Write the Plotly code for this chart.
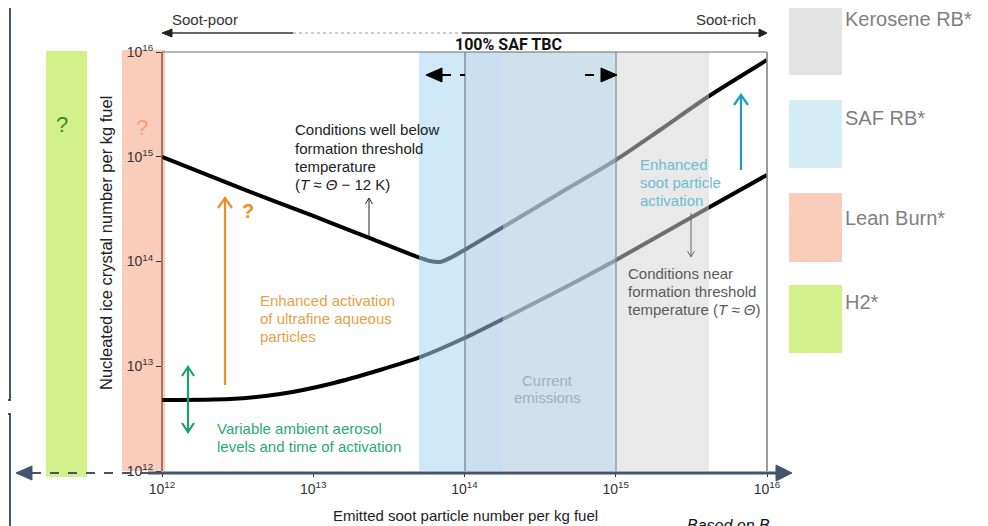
import plotly.graph_objects as go

# ---------------- data ----------------
soot_upper = [1e12, 3.54e12, 1e13, 2.37e13, 4.93e13, 5.92e13, 6.89e13, 8.26e13, 1e14,
              1.85e14, 4.28e14, 1e15, 1.96e15, 4.14e15, 1e16]
ice_upper = [1.0e15, 4.82e14, 2.72e14, 1.67e14, 1.10e14, 1.01e14, 9.9e13, 1.10e14, 1.29e14,
             2.18e14, 4.51e14, 9.31e14, 1.80e15, 3.80e15, 8.39e15]
soot_lower = [1e12, 2.82e12, 6.03e12, 1.29e13, 2.76e13, 5.08e13, 1e14, 1.85e14, 4.28e14,
              1e15, 4.07e15, 1e16]
ice_lower = [4.76e12, 4.86e12, 5.43e12, 6.78e12, 9.2e12, 1.22e13, 1.86e13, 2.89e13, 5.35e13,
             1.03e14, 3.24e14, 6.70e14]
tick_vals = [1e12, 1e13, 1e14, 1e15, 1e16]
tick_text = ["10<sup>12</sup>", "10<sup>13</sup>", "10<sup>14</sup>", "10<sup>15</sup>", "10<sup>16</sup>"]
legend_labels = ["Kerosene RB*", "SAF RB*", "Lean Burn*", "H2*"]
legend_colors = ["#e3e3e3", "#d5eef6", "#facdbb", "#d4f08a"]

FONT = "Arial, Liberation Sans, sans-serif"

# ---------------- pixel helpers (layout only) ----------------
# page body adds an 8px offset; reference pixel coords are used below
OFF = 8
FW, FH = 988 - OFF, 526 - OFF
L, R, T, B = 162, 767, 52, 471
def X(px): return (px - L) / (R - L)
def Y(py): return (B - py) / (B - T)

shapes = []
annots = []

def line(x0, y0, x1, y1, color, width, dash="solid", layer="above"):
    shapes.append(dict(type="line", xref="paper", yref="paper", x0=X(x0), y0=Y(y0),
                       x1=X(x1), y1=Y(y1), line=dict(color=color, width=width, dash=dash),
                       layer=layer))

def rect(x0, y0, x1, y1, color, opacity=1.0, layer="below"):
    shapes.append(dict(type="rect", xref="paper", yref="paper", x0=X(x0), y0=Y(y0),
                       x1=X(x1), y1=Y(y1), fillcolor=color, opacity=opacity,
                       line=dict(width=0), layer=layer))

def path(pts, color, width=1.5, fill=None, closed=False, layer="above"):
    d = "M " + " L ".join(f"{X(a):.5f},{Y(b):.5f}" for a, b in pts)
    if closed:
        d += " Z"
    shapes.append(dict(type="path", xref="paper", yref="paper", path=d,
                       line=dict(color=color, width=width),
                       fillcolor=fill if fill else "rgba(0,0,0,0)", layer=layer))

def text(px, py, s, size, color, xanchor="left", yanchor="middle", align="left",
         family=FONT, angle=0):
    annots.append(dict(xref="paper", yref="paper", x=X(px), y=Y(py), text=s,
                       showarrow=False, xanchor=xanchor, yanchor=yanchor, align=align,
                       font=dict(size=size, color=color, family=family), textangle=angle))

def mtext(px, py0, lines, size, color, spacing=18, xanchor="left"):
    for i, s in enumerate(lines):
        text(px, py0 + i * spacing, s, size, color, xanchor=xanchor)

def chevron(tx, ty, direction, color, hw=6, h=9, width=2):
    s = 1 if direction == "up" else -1
    path([(tx - hw, ty + s * h), (tx, ty), (tx + hw, ty + s * h)], color, width)

# ---------------- background bands ----------------
rect(46, 51, 87, 477, "#d4f08a")          # H2 band
rect(122, 50, 165, 471, "#facdbb")        # Lean burn band

# overlays above curves (semi-transparent)
rect(419, 52, 465, 471, "rgb(168,215,243)", 0.55, "above")
rect(465, 52, 503, 471, "rgb(155,199,228)", 0.55, "above")
rect(503, 52, 616, 471, "rgb(190,214,228)", 0.74, "above")
rect(616, 52, 709, 471, "rgb(212,212,212)", 0.52, "above")

# frame lines
line(L, T, R, T, "#6a6a6a", 1.2)
line(R, T, R, B, "#7a7a7a", 1.5)
line(L, T, L, B, "#6b3a2a", 1.2)
line(465, T, 465, B, "#6a7d8a", 1.2)
line(616, T, 616, B, "#8a8a8a", 1.2)

# bottom axis arrow
line(148, 473, 777, 473, "#44546a", 3)
path([(776, 465), (792, 473), (776, 481)], "#44546a", 1, fill="#44546a", closed=True)
line(32, 473, 148, 473, "#44546a", 2, dash="dash")
path([(32, 466), (16, 473), (32, 480)], "#44546a", 1, fill="#44546a", closed=True)

# left slide box lines
path([(0, 400), (10, 400), (10, 0)], "#44546a", 2)
path([(0, 414), (10, 414), (10, 526)], "#44546a", 2)

# top soot-poor / soot-rich arrows
path([(162, 33), (172, 29), (172, 37)], "#222", 1, fill="#222", closed=True)
line(172, 33, 293, 33, "#333", 1.3)
line(293, 33, 462, 33, "#999", 1.2, dash="dot")
line(462, 33, 759, 33, "#333", 1.3)
path([(767, 33), (759, 29), (759, 37)], "#222", 1, fill="#222", closed=True)
text(205, 20, "Soot-poor", 15, "#333", xanchor="center")
text(726, 20, "Soot-rich", 15, "#333", xanchor="center")

# 100% SAF TBC and dashed arrows
text(508, 45, "<b>100% SAF TBC</b>", 16, "#111", xanchor="center", family="Roboto")
path([(426, 75), (442, 68), (442, 82)], "#000", 1, fill="#000", closed=True)
line(442, 75, 465, 75, "#000", 2, dash="dash")
line(585, 75, 601, 75, "#000", 2, dash="dash")
path([(617, 75), (601, 68), (601, 82)], "#000", 1, fill="#000", closed=True)

# coloured arrows
line(225, 385, 225, 199, "#ef8c26", 2.2)
chevron(225, 198, "up", "#ef8c26", 7, 10, 2.2)
line(741, 170, 741, 96, "#1a9cc8", 2.2)
chevron(741, 95, "up", "#1a9cc8", 7, 10, 2.2)
line(188, 369, 188, 430, "#1aa26a", 2.2)
chevron(188, 367, "up", "#1aa26a", 6, 9, 2.2)
chevron(188, 432, "down", "#1aa26a", 6, 9, 2.2)
line(369, 236, 369, 199, "#222", 1)
chevron(369, 198, "up", "#222", 3.5, 6, 1)
line(691, 213, 691, 256, "#666", 1)
chevron(691, 257, "down", "#666", 3.5, 6, 1)

# text annotations
mtext(293, 130, ["Conditions well below", "formation threshold", "temperature",
                 "(<i>T</i> ≈ <i>Θ</i> − 12 K)"], 15, "#222")
mtext(258, 300, ["Enhanced activation", "of ultrafine aqueous", "particles"], 15, "#e8a04a")
mtext(215, 428, ["Variable ambient aerosol", "levels and time of activation"], 15, "#2aa878")
mtext(547, 380, ["Current", "emissions"], 15, "#a3aeb6", spacing=17, xanchor="center")
mtext(638, 164, ["Enhanced", "soot particle", "activation"], 15, "#6cbdd0")
mtext(626, 273, ["Conditions near", "formation threshold",
                 "temperature (<i>T</i> ≈ <i>Θ</i>)"], 15, "#5a5a5a")
text(248, 211, "<b>?</b>", 20, "#f0901a", xanchor="center")
text(62, 125, "?", 22, "#3c8c2c", xanchor="center")
text(142, 127, "?", 22, "#f5a070", xanchor="center")

# axis titles
text(106, 243, "Nucleated ice crystal number per kg fuel", 16.5, "#222", xanchor="center", angle=-90)
text(465, 516, "Emitted soot particle number per kg fuel", 15, "#222", xanchor="center")
text(685, 515, "<i>Based on B</i>", 16, "#111", yanchor="top")

# legend swatches
sw_y = [(6, 75), (100, 168), (193, 262), (285, 353)]
lab_y = [19, 118, 218, 302]
for (y0, y1), c, lab, ly in zip(sw_y, legend_colors, legend_labels, lab_y):
    rect(789, y0, 842, y1, c)
    text(843, ly, lab, 20, "#7f7f7f")

# ---------------- figure ----------------
fig = go.Figure()
fig.add_trace(go.Scatter(x=soot_upper, y=ice_upper, mode="lines",
                         line=dict(color="#000", width=4, shape="spline", smoothing=0.7),
                         hoverinfo="skip"))
fig.add_trace(go.Scatter(x=soot_lower, y=ice_lower, mode="lines",
                         line=dict(color="#000", width=4, shape="spline", smoothing=0.7),
                         hoverinfo="skip"))

axis_common = dict(type="log", range=[12, 16], showline=False, showgrid=False, zeroline=False,
                   ticks="outside", ticklen=5, tickcolor="#333", tickwidth=1,
                   tickvals=tick_vals, ticktext=tick_text,
                   tickfont=dict(size=14, color="#333", family=FONT))
fig.update_layout(
    width=FW, height=FH,
    margin=dict(l=L - OFF, r=FW - (R - OFF), t=T - OFF, b=FH - (B - OFF), pad=0),
    paper_bgcolor="white", plot_bgcolor="rgba(0,0,0,0)",
    showlegend=False,
    xaxis=axis_common,
    yaxis=axis_common,
    shapes=shapes,
    annotations=annots,
)
fig.write_html("out.html")
